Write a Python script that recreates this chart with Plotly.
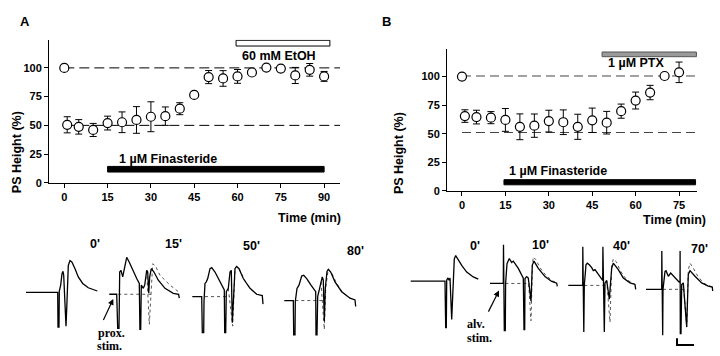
import plotly.graph_objects as go

W, H = 720, 356

# ---------------- Panel A data ----------------
a_time = [0, 1, 5, 10, 15, 20, 25, 30, 35, 40, 45, 50, 55, 60, 65, 70, 75, 80, 85, 90]
a_ps = [100, 50.5, 48.7, 46, 52, 52.7, 54.7, 57.5, 58, 64.5, 76.5, 92, 90.8, 92.6, 96, 100.3, 99.4, 93.4, 98.3, 92.6]
a_err = [0, 7, 6.3, 5.7, 6, 9, 11.6, 13, 8, 5.2, 0, 5.7, 6.8, 6, 2, 1, 1, 7, 5.5, 4.3]
a_ref_levels = [100, 50]
a_xticks = [0, 15, 30, 45, 60, 75, 90]
a_fin = [15, 90]      # finasteride application (min)
a_etoh = [59.5, 92]   # ethanol application (min)

# ---------------- Panel B data ----------------
b_time = [0, 1, 5, 10, 15, 20, 25, 30, 35, 40, 45, 50, 55, 60, 65, 70, 75]
b_ps = [100, 65.4, 64.5, 64, 62, 56, 57, 61, 60, 56, 61.7, 59.6, 69.7, 79, 86, 100.5, 103.7]
b_err = [0, 5.5, 6, 5.3, 10, 11.3, 10.2, 9.5, 10.8, 11, 10.7, 9.9, 6.2, 7.4, 6.3, 2.5, 9]
b_ref_levels = [100.5, 51]
b_xticks = [0, 15, 30, 45, 60, 75]
b_fin = [14.5, 80.7]
b_ptx = [48.4, 81]

yticks = [0, 25, 50, 75, 100]

# ---------------- Recorded field potentials (local units, v up) ----------------
a0_t = [0, 31.7, 32, 33, 33.3, 34.7, 36, 37, 37.7, 40, 41, 42.3, 44, 46, 49, 52.3, 56.7, 62.3, 71.3]
a0_v = [0, 0, -35.4, -35.4, 1.3, 7.3, 19, 21.3, 17.3, -34.4, -9.4, 27.3, 32.3, 30.6, 24, 15.6, 9, 4.6, 1.3]

a15_t = [0, 7.4, 8.4, 9.7, 10.4, 11.7, 13.4, 15, 17.4, 20, 23.4, 27.4, 30, 30.6, 31.4, 32, 34, 35.4, 37.4, 38.4, 39.4, 40.4, 42, 44.7, 49, 55.7, 64, 69, 69.3, 70]
a15_v = [0, 0, -34.7, -34.7, 22.6, 24.3, 17.6, 26, 37.6, 32.6, 24.3, 16, 11, -35.7, -35.7, 9.3, 6, 9.3, 24.3, 22.6, 1, 17.6, 26, 22.6, 14.3, 6, 1, 0, 0, -4]
a15_dt = [37.4, 40, 43.4, 46, 50.7, 60.7, 69]
a15_dv = [24.3, -30.7, 31, 29, 19.3, 9.3, 2.6]
a15_bt = [9, 43]

a50_t = [0, 9.4, 10, 11.4, 11.7, 12.7, 14, 15.4, 17.7, 19.4, 22.7, 26, 29.4, 32, 32.4, 33.4, 34, 36, 37.7, 39, 40, 41.4, 42.7, 44.4, 46.7, 51, 57.7, 64.4, 70, 70.7]
a50_v = [0, 0, -36.6, -36.6, -5, 13.4, 15, 18.4, 28.4, 29.4, 25, 19, 11.7, 6.7, -36.6, -36.6, 5, 8.4, 25, 26.7, -26.6, 11.7, 28.4, 30.7, 28.4, 18.4, 8.4, 2.4, 1, -7.6]
a50_dt = [36, 40.4, 42.7, 44.4, 47, 52, 58, 64.4]
a50_dv = [8.4, -30, 29, 31, 28, 17, 8, 2.4]
a50_bt = [12.7, 37.7]

a80_t = [0, 9, 9.4, 10.7, 11, 12.7, 14.7, 17.4, 19.4, 22.4, 26.7, 31.4, 31.7, 32.7, 33.4, 34.7, 36.7, 38, 39, 40, 41, 42.7, 44, 46.4, 50.7, 57.4, 65.7, 70.7, 71.4]
a80_v = [0, 0, -35, -35, -1, 12.4, 15.7, 25, 25.7, 22.4, 15.7, 9, -35, -35, 4, 9, 19, 24, 20.7, -21, 12.4, 29.7, 31.7, 29, 19, 9, 2.4, 0.7, -6]
a80_dt = [36.7, 40, 41.5, 44, 47, 52, 58, 65.7]
a80_dv = [19, -29.3, 14, 32, 29, 18, 8.5, 2.4]
a80_bt = [11, 40]

b0_t = [0, 34.3, 35, 35.6, 36, 37.3, 38.3, 39.3, 41, 42.3, 43.6, 45, 46.6, 51, 56, 62.6, 67.6]
b0_v = [0, 0, -47.3, -47.3, 1, 3.3, 1, 3.3, -39, -0.7, 22.7, 26, 23.3, 16, 9.3, 4.3, 2]

b10_t = [0, 13.3, 13.5, 14.3, 15.3, 15.6, 17, 18.3, 19.3, 21.7, 23.3, 28.3, 31.7, 33.3, 34, 34.7, 35, 36.7, 38.3, 41, 42.3, 44, 48.3, 55, 61.7, 66.7, 67.3]
b10_v = [0, 0, 39.3, -48, -48, 0, 20, 23.7, 25.3, 21.3, 22.7, 15.3, 8.7, 5.3, -47, -47, 5, 7, 5.5, -18, 18.7, 22.7, 15.3, 7, 2, 0.3, -3]
b10_dt = [38.3, 41, 42.5, 43.3, 46, 50, 56, 62, 66.7]
b10_dv = [5.5, -38, 20, 27, 24, 16, 8, 3, 0.5]
b10_bt = [15.3, 40]

b40_t = [0, 14.4, 14.5, 14.8, 15.5, 16, 17.7, 19, 21, 23.4, 25, 26.7, 30, 34.4, 34.6, 35.3, 36, 36.7, 38.4, 41, 43.4, 45, 50, 55, 61.7, 66.7, 67.4]
b40_v = [0, 0, 39.3, -47.4, -47.4, 0, 21, 22.6, 21, 18, 15, 16, 11, 5, 39.3, -47.4, -47.4, 2.6, 5, -14, 17.6, 22.6, 16, 7.6, 2.6, 1, -4]
b40_dt = [38.4, 41.7, 43.4, 45, 48, 52, 58, 64, 66.7]
b40_dv = [5, -37.4, 20, 27, 24, 15, 6, 2, 1]
b40_bt = [16, 40]

b70_t = [0, 15.7, 15.8, 16, 16.7, 17, 19, 20, 22.3, 24.7, 29, 33, 34, 34.1, 34.3, 35, 35.7, 37.3, 40.7, 42.3, 44, 49, 55.7, 62.3, 66.3, 66.7]
b70_v = [0, 0, 39, -46.7, -46.7, 0, 18.3, 19, 13.3, 16.6, 11.6, 7.6, 7, 39, -45, -45, 5, 6.6, -38.4, 15, 19, 13.3, 6.6, 3.3, 2.3, -1.7]
b70_dt = [37.3, 40.7, 42.3, 44, 47, 52, 58, 64, 66.3]
b70_dv = [6.6, -38, 20, 26.6, 22, 13, 6, 3, 2.3]
b70_bt = [17, 37]

scale_x = [0, 0, 17]
scale_y = [7, 0, 0]

# ---------------- layout helpers (pixel placement) ----------------
def fx(px):
    return px / W

def fy(py):
    return 1 - py / H

FONT = "Liberation Sans, Arial, sans-serif"
SERIF = "Liberation Serif, Times New Roman, serif"

fig = go.Figure()

rec_pos = {
    "a0": (26, 297.3), "a15": (109.3, 299.3), "a50": (192.3, 301.7), "a80": (284.3, 305.7),
    "b0": (410.7, 286), "b10": (490, 288.3), "b40": (568.3, 290.3), "b70": (646, 294.3),
}
recs = {
    "a0": (a0_t, a0_v, None, None, None),
    "a15": (a15_t, a15_v, a15_dt, a15_dv, a15_bt),
    "a50": (a50_t, a50_v, a50_dt, a50_dv, a50_bt),
    "a80": (a80_t, a80_v, a80_dt, a80_dv, a80_bt),
    "b0": (b0_t, b0_v, None, None, None),
    "b10": (b10_t, b10_v, b10_dt, b10_dv, b10_bt),
    "b40": (b40_t, b40_v, b40_dt, b40_dv, b40_bt),
    "b70": (b70_t, b70_v, b70_dt, b70_dv, b70_bt),
}

# ---- Panel A ----
for lvl in a_ref_levels:
    fig.add_trace(go.Scatter(x=[0, 95.5], y=[lvl, lvl], mode="lines",
                             line=dict(color="black", width=1, dash="10px,5px"),
                             xaxis="x", yaxis="y", hoverinfo="skip", showlegend=False))
fig.add_trace(go.Scatter(x=a_time, y=a_ps, mode="markers",
                         marker=dict(symbol="circle", size=9, color="white",
                                     line=dict(color="black", width=1.2)),
                         error_y=dict(type="data", array=a_err, symmetric=True,
                                      color="black", thickness=1, width=3.5),
                         xaxis="x", yaxis="y", showlegend=False, cliponaxis=False))

# ---- Panel B ----
for lvl in b_ref_levels:
    fig.add_trace(go.Scatter(x=[0, 81.2], y=[lvl, lvl], mode="lines",
                             line=dict(color="#444444", width=1, dash="9px,5px"),
                             xaxis="x2", yaxis="y2", hoverinfo="skip", showlegend=False))
fig.add_trace(go.Scatter(x=b_time, y=b_ps, mode="markers",
                         marker=dict(symbol="circle", size=9, color="white",
                                     line=dict(color="black", width=1.2)),
                         error_y=dict(type="data", array=b_err, symmetric=True,
                                      color="black", thickness=1, width=3.5),
                         xaxis="x2", yaxis="y2", showlegend=False, cliponaxis=False))

# ---- recordings ----
for key, (t, v, dt, dv, bt) in recs.items():
    x0, y0 = rec_pos[key]
    if bt is not None:
        fig.add_trace(go.Scatter(x=[x0 + a for a in bt], y=[y0, y0], mode="lines",
                                 line=dict(color="#555555", width=1, dash="dot"),
                                 xaxis="x3", yaxis="y3", hoverinfo="skip", showlegend=False))
    if dt is not None:
        fig.add_trace(go.Scatter(x=[x0 + a for a in dt], y=[y0 - b for b in dv], mode="lines",
                                 line=dict(color="#555555", width=1, dash="dot"),
                                 xaxis="x3", yaxis="y3", hoverinfo="skip", showlegend=False))
    fig.add_trace(go.Scatter(x=[x0 + a for a in t], y=[y0 - b for b in v], mode="lines",
                             line=dict(color="black", width=1.3),
                             xaxis="x3", yaxis="y3", hoverinfo="skip", showlegend=False))

# scale bar
sb0 = (677, 351)
fig.add_trace(go.Scatter(x=[sb0[0] + a for a in scale_x], y=[sb0[1] - b for b in scale_y],
                         mode="lines", line=dict(color="black", width=2),
                         xaxis="x3", yaxis="y3", hoverinfo="skip", showlegend=False))

# ---------------- shapes (application bars) ----------------
shapes = [
    dict(type="rect", xref="x", yref="y", x0=a_fin[0], x1=a_fin[1], y0=9.4, y1=14.3,
         fillcolor="black", line=dict(color="black", width=1)),
    dict(type="rect", xref="x", yref="y", x0=a_etoh[0], x1=a_etoh[1], y0=119, y1=124,
         fillcolor="white", line=dict(color="black", width=1)),
    dict(type="rect", xref="x2", yref="y2", x0=b_fin[0], x1=b_fin[1], y0=5.2, y1=9.7,
         fillcolor="black", line=dict(color="black", width=1)),
    dict(type="rect", xref="x2", yref="y2", x0=b_ptx[0], x1=b_ptx[1], y0=117.4, y1=121.5,
         fillcolor="#9a9a9a", line=dict(color="#555555", width=1)),
]

bold = dict(family=FONT, size=12.5, color="black", weight="bold")
bold11 = dict(family=FONT, size=11, color="black", weight="bold")
serifb = dict(family=SERIF, size=12, color="black", weight="bold")

ann = [
    dict(xref="x", yref="y", x=18.3, y=20.5, text="1 µM Finasteride", showarrow=False,
         xanchor="left", yanchor="middle", font=bold),
    dict(xref="x", yref="y", x=60.8, y=110, text="60 mM EtOH", showarrow=False,
         xanchor="left", yanchor="middle", font=bold),
    dict(xref="x2", yref="y2", x=15.4, y=17, text="1 µM Finasteride", showarrow=False,
         xanchor="left", yanchor="middle", font=bold),
    dict(xref="x2", yref="y2", x=49.8, y=112, text="1 µM PTX", showarrow=False,
         xanchor="left", yanchor="middle", font=bold),
    dict(xref="paper", yref="paper", x=fx(17.5), y=fy(12), text="A", showarrow=False,
         font=dict(family=FONT, size=13, color="black", weight="bold")),
    dict(xref="paper", yref="paper", x=fx(386), y=fy(12), text="B", showarrow=False,
         font=dict(family=FONT, size=13, color="black", weight="bold")),
    dict(xref="paper", yref="paper", x=fx(8), y=fy(111), text="PS Height (%)", showarrow=False,
         textangle=-90, font=bold),
    dict(xref="paper", yref="paper", x=fx(399), y=fy(112), text="PS Height (%)", showarrow=False,
         textangle=-90, font=bold),
    dict(xref="paper", yref="paper", x=fx(343), y=fy(222), text="Time (min)", showarrow=False,
         xanchor="right", font=bold),
    dict(xref="paper", yref="paper", x=fx(708), y=fy(224), text="Time (min)", showarrow=False,
         xanchor="right", font=bold),
]

rec_labels = [("0'", 88, 257), ("15'", 163, 257), ("50'", 251, 259), ("80'", 355, 264),
              ("0'", 475, 259), ("10'", 551, 258), ("40'", 632, 259), ("70'", 710, 262)]
for txt, px, py in rec_labels:
    ann.append(dict(xref="paper", yref="paper", x=fx(px), y=fy(py), text=txt,
                    showarrow=False, font=bold))

ann += [
    dict(xref="paper", yref="paper", x=fx(97), y=fy(339), text="prox.", showarrow=False,
         font=serifb, borderpad=0, yanchor="middle"),
    dict(xref="paper", yref="paper", x=fx(96), y=fy(352), text="stim.", showarrow=False,
         font=serifb, borderpad=0, yanchor="middle"),
    dict(xref="paper", yref="paper", x=fx(476), y=fy(330), text="alv.", showarrow=False,
         font=serifb, borderpad=0, yanchor="middle"),
    dict(xref="paper", yref="paper", x=fx(479), y=fy(343.5), text="stim.", showarrow=False,
         font=serifb, borderpad=0, yanchor="middle"),
    dict(xref="x3", yref="y3", x=113.3, y=304, axref="x3", ayref="y3", ax=102.7, ay=327,
         text="", showarrow=True, arrowhead=2, arrowsize=1, arrowwidth=1.2, arrowcolor="black"),
    dict(xref="x3", yref="y3", x=499, y=295.5, axref="x3", ayref="y3", ax=487.7, ay=318.5,
         text="", showarrow=True, arrowhead=2, arrowsize=1, arrowwidth=1.2, arrowcolor="black"),
]

axis_common = dict(showline=True, linecolor="black", linewidth=1, ticks="outside",
                   ticklen=4, tickwidth=1, tickcolor="black", showgrid=False, zeroline=False,
                   tickfont=bold11, fixedrange=True)

fig.update_layout(
    width=W, height=H, margin=dict(l=0, r=0, t=0, b=0, pad=0),
    paper_bgcolor="white", plot_bgcolor="rgba(0,0,0,0)",
    showlegend=False,
    xaxis=dict(domain=[fx(49), fx(340)], range=[-5.3, 95.5], tickvals=a_xticks,
               anchor="y", **axis_common),
    yaxis=dict(domain=[fy(186), fy(40.5)], range=[0, 124.4], tickvals=yticks,
               anchor="x", **axis_common),
    xaxis2=dict(domain=[fx(447), fx(697)], range=[-5.18, 81.2], tickvals=b_xticks,
                anchor="y2", **axis_common),
    yaxis2=dict(domain=[fy(194), fy(50)], range=[0, 124], tickvals=yticks,
                anchor="x2", **axis_common),
    xaxis3=dict(domain=[0, 1], range=[0, W], visible=False, anchor="y3", fixedrange=True),
    yaxis3=dict(domain=[0, 1], range=[H, 0], visible=False, anchor="x3", fixedrange=True),
    shapes=shapes,
    annotations=ann,
)

fig.write_html("out.html", config={"displayModeBar": False},
               post_script="document.body.style.margin='0';document.body.style.overflow='hidden';")
